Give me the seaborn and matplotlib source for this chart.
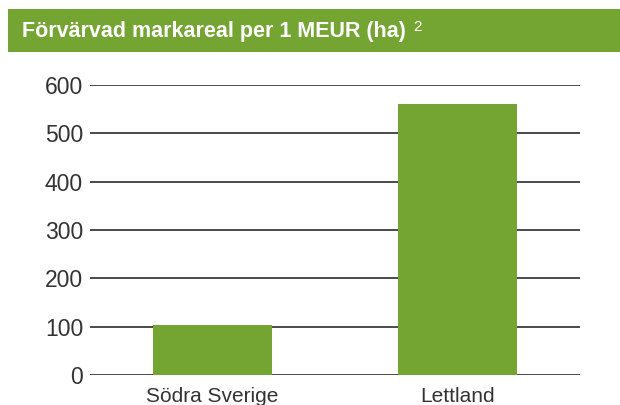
import matplotlib
matplotlib.use("Agg")
import matplotlib.pyplot as plt
import seaborn as sns
import pandas as pd
from matplotlib.patches import Rectangle

categories = ["Södra Sverige", "Lettland"]
values = [104, 560]
yticks = [0, 100, 200, 300, 400, 500, 600]
title = "Förvärvad markareal per 1 MEUR (ha)"
green = "#74A533"

sns.set_style("white")
plt.rcParams['font.family'] = ['Liberation Sans', 'DejaVu Sans']

df = pd.DataFrame({"cat": categories, "val": values})
fig = plt.figure(figsize=(6.2, 4.05), dpi=100)
ax = fig.add_axes([90/620, 1-375/405, 490/620, 290/405])

ax.set_axisbelow(True)
for t in yticks:
    ax.axhline(t, color="#2b2b2b", lw=1.2, zorder=0)
sns.barplot(data=df, x="cat", y="val", color=green, saturation=1, width=0.484,
            linewidth=0, edgecolor="none", ax=ax, zorder=2)

ax.set_xlim(-0.5, 1.5)
ax.set_ylim(0, 600)
ax.set_yticks(yticks)
ax.set_xlabel("")
ax.set_ylabel("")
for s in ax.spines.values():
    s.set_visible(False)
ax.tick_params(axis="y", length=0, pad=5, labelsize=16.5, labelcolor="#333333")
ax.tick_params(axis="x", length=0, pad=9, labelsize=15, labelcolor="#333333")

# header band
fig.patches.append(Rectangle((8/620, 1-52/405), 1-8/620, 43/405, transform=fig.transFigure,
                             facecolor=green, edgecolor="none", zorder=0))
t = fig.text(22/620, 1-32/405, title, color="white", fontsize=15.5, fontweight="bold",
             va="center", ha="left")
fig.canvas.draw()
bb = t.get_window_extent()
fig.text((bb.x1 + 7)/620, 1-27/405, "2", color="white", fontsize=11, va="center", ha="left")

fig.savefig("out.png", dpi=100)
